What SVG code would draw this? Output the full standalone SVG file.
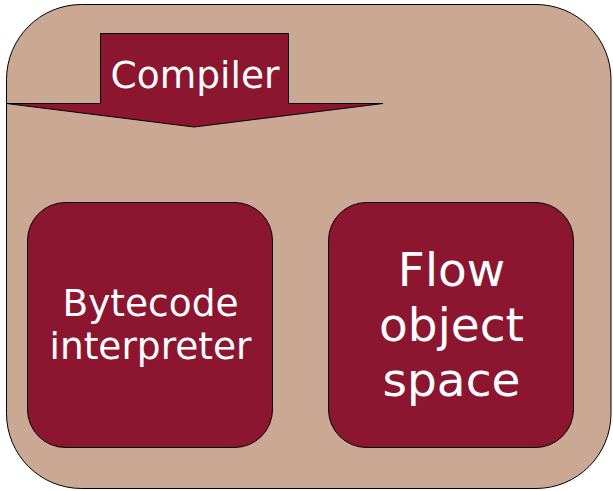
<svg xmlns="http://www.w3.org/2000/svg" width="613" height="491" viewBox="0 0 613 491">
<style>
.box{fill:#8c1530;stroke:#000;stroke-width:1}
.t{fill:#fff;font-family:"DejaVu Sans",sans-serif;text-anchor:middle}
</style>
<rect width="613" height="491" fill="#fff"/>
<g id="outer">
<rect x="6.5" y="4.5" width="604.5" height="484" rx="75" ry="75" fill="#caa894" stroke="#000" stroke-width="1"/>
</g>
<g id="compiler">
<path class="box" d="M100.5 33.5 H288.5 V103.5 H383 L194 127 L6.5 103.5 H100.5 Z"/>
<text class="t" x="195" y="88" font-size="37.5">Compiler</text>
</g>
<g id="bytecode">
<rect class="box" x="27.5" y="202.5" width="245" height="245" rx="38" ry="38"/>
<text class="t" x="150.5" y="315.5" font-size="37.5">Bytecode</text>
<text class="t" x="150.5" y="359" font-size="37.5">interpreter</text>
</g>
<g id="flow">
<rect class="box" x="328.5" y="202.5" width="245" height="245" rx="38" ry="38"/>
<text class="t" x="451.5" y="286" font-size="47">Flow</text>
<text class="t" x="451.5" y="341" font-size="47">object</text>
<text class="t" x="451.5" y="396" font-size="47">space</text>
</g>
<g id="connectors"></g>
</svg>
